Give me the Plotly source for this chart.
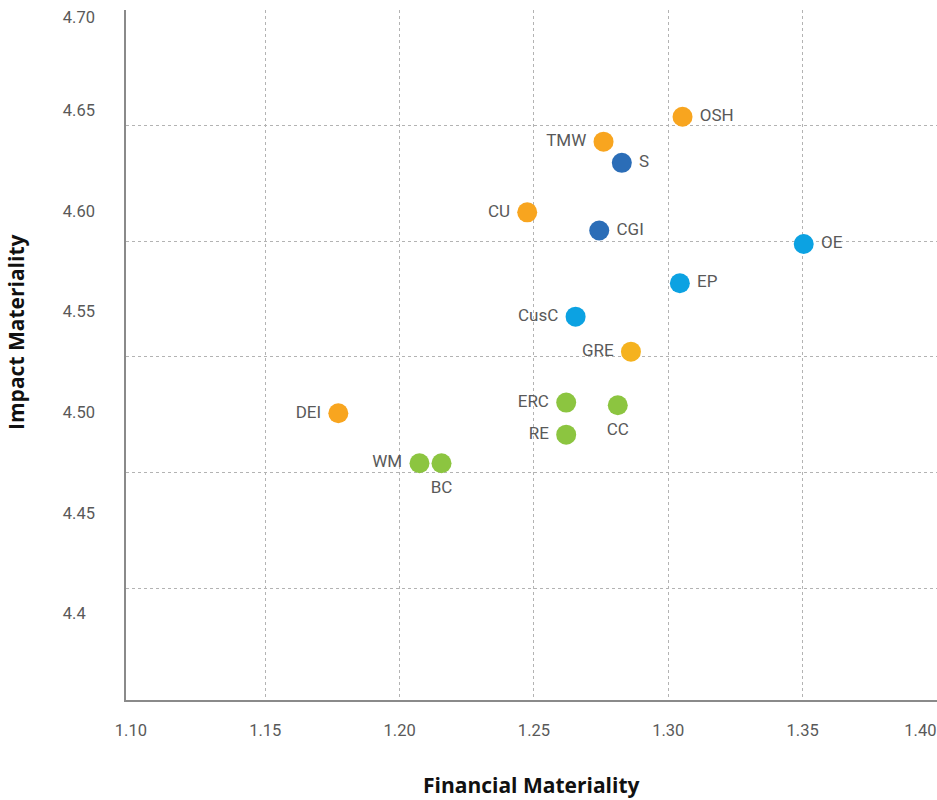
import plotly.graph_objects as go

# ---- data ----
labels = ["OSH", "TMW", "S", "CU", "CGI", "OE", "EP", "CusC", "GRE",
          "ERC", "CC", "RE", "DEI", "WM", "BC"]
financial = [1.3053, 1.2759, 1.2827, 1.2475, 1.2743, 1.3504, 1.3043, 1.2655, 1.2861,
             1.2620, 1.2812, 1.2620, 1.1772, 1.2074, 1.2156]
impact = [4.6467, 4.6343, 4.6238, 4.5992, 4.5902, 4.5835, 4.5640, 4.5474, 4.5300,
          4.5047, 4.5034, 4.4888, 4.4994, 4.4746, 4.4746]
groups = ["orange", "orange", "darkblue", "orange", "darkblue", "lightblue", "lightblue",
          "lightblue", "yellow", "green", "green", "green", "orange", "green", "green"]
label_side = ["middle right", "middle left", "middle right", "middle left", "middle right",
              "middle right", "middle right", "middle left", "middle left", "middle left",
              "bottom center", "middle left", "middle left", "middle left", "bottom center"]

# tick labels (the edge labels sit slightly inside, as in the reference)
x_tick_vals = [1.10, 1.15, 1.20, 1.25, 1.30, 1.35, 1.3938]
x_tick_text = ["1.10", "1.15", "1.20", "1.25", "1.30", "1.35", "1.40"]
y_tick_vals = [4.40, 4.45, 4.50, 4.55, 4.60, 4.65, 4.6963]
y_tick_text = ["4.4", "4.45", "4.50", "4.55", "4.60", "4.65", "4.70"]

# ---- styling ----
palette = {"orange": "#F8A51F", "yellow": "#F5B21E", "darkblue": "#2B6DB7",
           "lightblue": "#0CA2E2", "green": "#8CC540"}
colors = [palette[g] for g in groups]
FONT = "Roboto"
TITLE_FONT = "Open Sans"
TEXT_GREY = "#595959"
GRID = "#b3b3b3"

# gridline positions (layout only)
x_grid = [1.15, 1.20, 1.25, 1.30, 1.35]
y_grid_top, y_grid_step = 4.6996, 0.05740
y_grid = [y_grid_top - k * y_grid_step for k in range(6)]

fig = go.Figure()
fig.add_trace(go.Scatter(
    x=financial, y=impact, mode="markers",
    marker=dict(size=20, color=colors, line=dict(width=0)),
    hoverinfo="skip", showlegend=False))
fig.add_trace(go.Scatter(
    x=financial, y=impact, mode="markers+text", text=labels,
    textposition=label_side,
    textfont=dict(family=FONT, size=17, color=TEXT_GREY),
    marker=dict(size=26, color="rgba(0,0,0,0)", opacity=0),
    hoverinfo="skip", showlegend=False))

y_text = list(y_tick_text)
y_text[0] = y_text[0] + "\u2007"  # left-align "4.4" with the other labels

fig.update_layout(
    width=937, height=800,
    margin=dict(l=126, r=0, t=10, b=100),
    paper_bgcolor="white", plot_bgcolor="white",
    font=dict(family=FONT, color=TEXT_GREY),
    xaxis=dict(
        range=[1.09818, 1.4], tickmode="array", tickvals=x_tick_vals, ticktext=x_tick_text,
        showgrid=False, zeroline=False, showline=True, linecolor="#8a8a8a", linewidth=1.5,
        ticks="outside", ticklen=0, tickcolor="rgba(0,0,0,0)",
        automargin=False, ticklabeloverflow="allow",
        tickfont=dict(family=FONT, size=16.5, color=TEXT_GREY), ticklabelstandoff=14,
        minor=dict(tickmode="array", tickvals=x_grid, showgrid=True, gridcolor=GRID,
                   gridwidth=1, griddash="3px,3px", ticks="inside", ticklen=0,
                   tickcolor="rgba(0,0,0,0)"),
    ),
    yaxis=dict(
        range=[4.3570, 4.6997], tickmode="array", tickvals=y_tick_vals, ticktext=y_text,
        showgrid=False, zeroline=False, showline=True, linecolor="#8a8a8a", linewidth=1.5,
        ticks="outside", ticklen=0, tickcolor="rgba(0,0,0,0)", automargin=False,
        tickfont=dict(family=FONT, size=16.5, color=TEXT_GREY), ticklabelstandoff=26,
        minor=dict(tickmode="array", tickvals=y_grid, showgrid=True, gridcolor=GRID,
                   gridwidth=1, griddash="3px,3px", ticks="inside", ticklen=0,
                   tickcolor="rgba(0,0,0,0)"),
    ),
    annotations=[
        dict(text="Financial Materiality", xref="paper", yref="paper", x=0.5006, y=-0.1232,
             xanchor="center", yanchor="middle", showarrow=False,
             font=dict(family=TITLE_FONT, size=21, color="#111111", weight="bold")),
        dict(text="Impact Materiality", xref="paper", yref="paper", x=-0.1356, y=0.532,
             xanchor="center", yanchor="middle", textangle=-90, showarrow=False,
             font=dict(family=TITLE_FONT, size=21, color="#111111", weight="bold")),
    ],
)

fig.write_html("out.html")
